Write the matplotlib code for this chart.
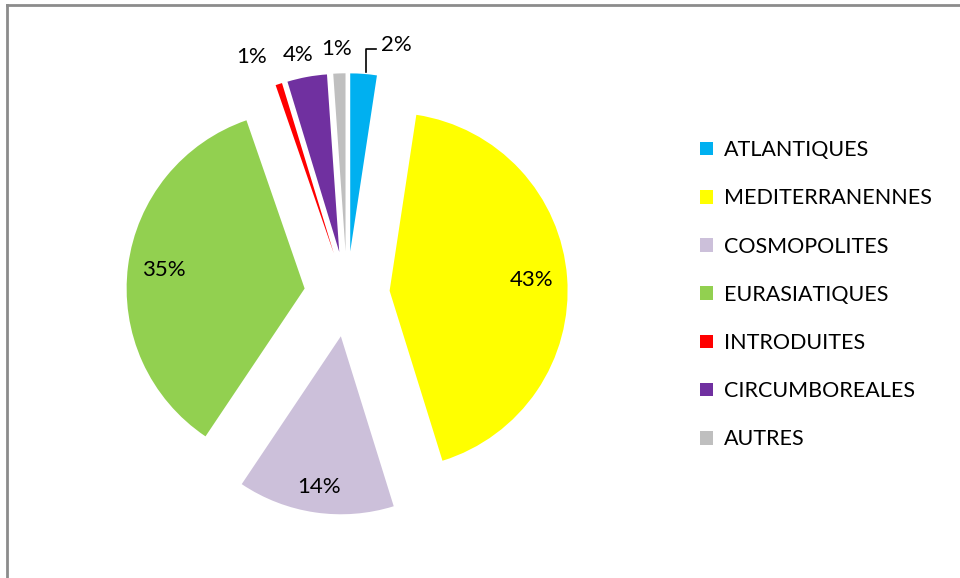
import matplotlib
matplotlib.use("Agg")
import matplotlib.pyplot as plt
from matplotlib.patches import Patch
from matplotlib.lines import Line2D

plt.rcParams['font.family'] = ['Lato', 'DejaVu Sans']

categories = ["ATLANTIQUES", "MEDITERRANENNES", "COSMOPOLITES", "EURASIATIQUES",
              "INTRODUITES", "CIRCUMBOREALES", "AUTRES"]
values = [2.4, 42.8, 14.2, 35.3, 0.6, 3.6, 1.1]
colors = ["#00b0f0", "#ffff00", "#ccc0da", "#92d050", "#ff0000", "#7030a0", "#bfbfbf"]

# outside label positions for the thin slices (pie radius = 1)
outside_labels = {0: (0.275, 1.40), 4: (-0.534, 1.33), 5: (-0.275, 1.345), 6: (-0.056, 1.375)}

fig = plt.figure(figsize=(9.6, 5.78), dpi=100)
ax = fig.add_axes([0, 0, 1, 1])

wedges, texts, autotexts = ax.pie(
    values, colors=colors, explode=[0.24] * len(values), startangle=90,
    counterclock=False, radius=1, autopct='%1.0f%%', pctdistance=0.8,
    textprops={'fontsize': 16, 'color': 'black'},
    wedgeprops={'linewidth': 0})

for i, t in enumerate(autotexts):
    if i in outside_labels:
        t.set_position(outside_labels[i])
        t.set_va('center')

# the COSMOPOLITES label sits a little further out
cx, cy = wedges[2].center
tx, ty = autotexts[2].get_position()
autotexts[2].set_position((cx + (tx - cx) * 1.07, cy + (ty - cy) * 1.07))

# leader line for the 2% label
ax.add_line(Line2D([0.104, 0.104, 0.165], [1.247, 1.376, 1.376], color='black', lw=1.2))

ax.set_aspect('auto')
ax.set_xlim(-347 / 178, (960 - 347) / 178)
ax.set_ylim(-(578 - 294) / 178, 294 / 178)
ax.axis('off')

handles = [Patch(facecolor=c, edgecolor='none') for c in colors]
fig.legend(handles, categories, loc='upper left', bbox_to_anchor=(0.718, 0.776),
           frameon=False, fontsize=15.5, handlelength=0.6, handleheight=0.6,
           handletextpad=0.5, labelspacing=1.31, borderpad=0)

# outer gray frame
fig.add_artist(Line2D([7 / 960, 7 / 960], [0, 1 - 5 / 578], color='#8c8c8c', lw=2,
                      transform=fig.transFigure))
fig.add_artist(Line2D([7 / 960, 1], [1 - 5 / 578, 1 - 5 / 578], color='#8c8c8c', lw=2,
                      transform=fig.transFigure))

fig.savefig("out.png", dpi=100)
